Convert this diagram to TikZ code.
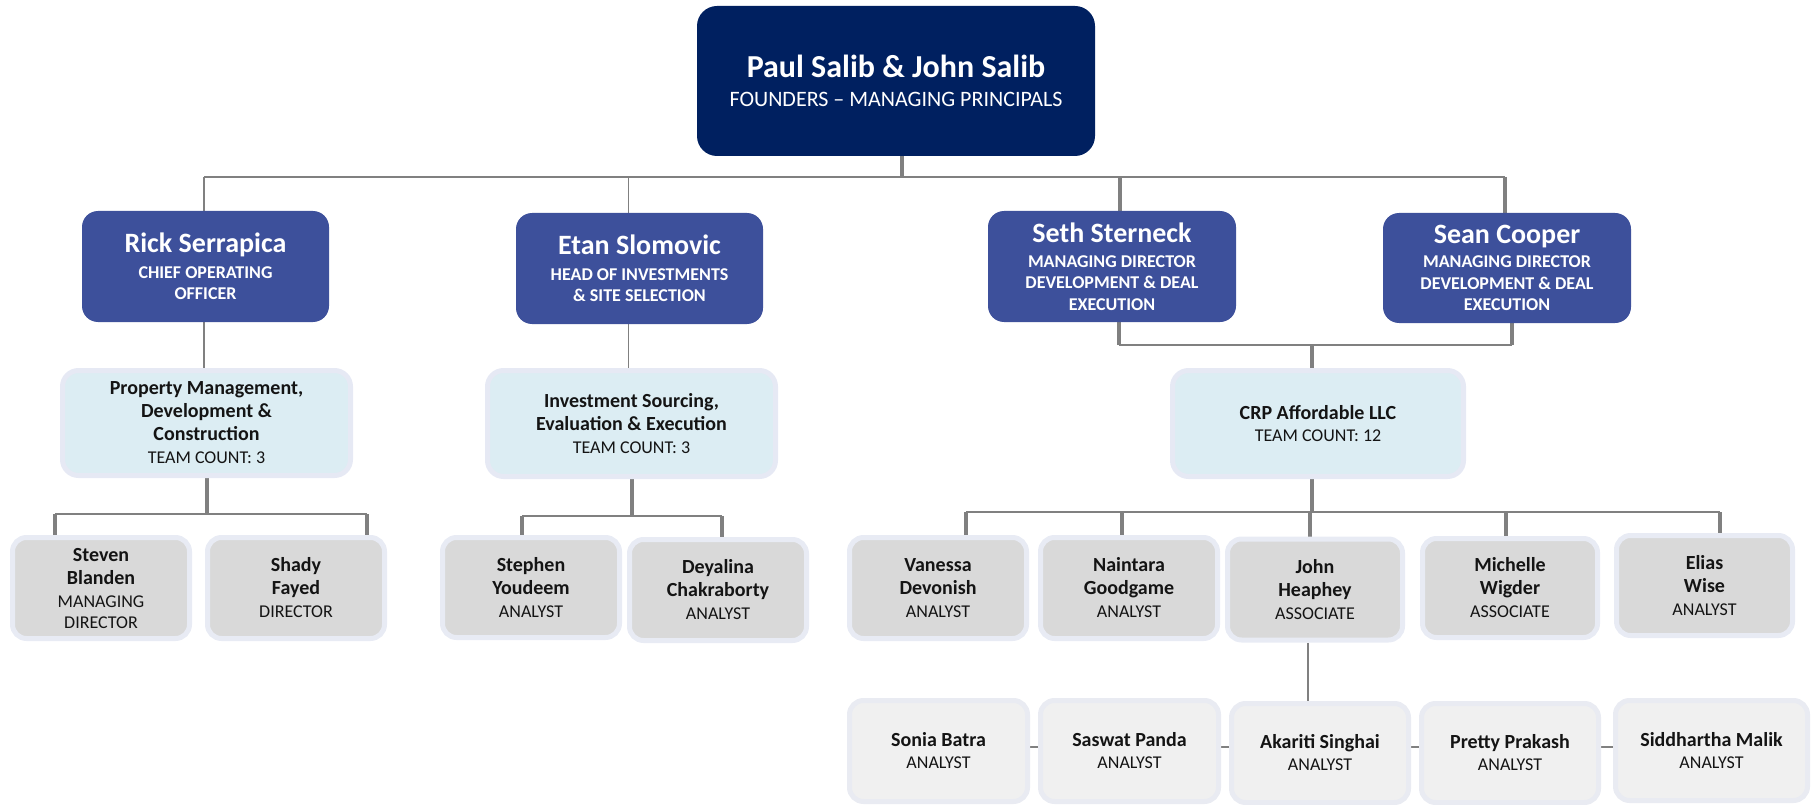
\documentclass[tikz,border=0pt]{standalone}
\usepackage{fontspec}
\setmainfont{Carlito}
\definecolor{navy}{HTML}{002060}
\definecolor{midblue}{HTML}{3D509B}
\definecolor{teamfill}{HTML}{DCEDF3}
\definecolor{teamborder}{HTML}{E6E9F4}
\definecolor{grayfill}{HTML}{D9D9D9}
\definecolor{grayborder}{HTML}{E8EBF4}
\definecolor{palefill}{HTML}{F0F0F0}
\definecolor{paleborder}{HTML}{E9EBF2}
\definecolor{linegray}{HTML}{808080}
\definecolor{ink}{HTML}{141414}
\pgfdeclarelayer{bg}
\pgfsetlayers{bg,main}
\newcommand\nmfont{\fontsize{20}{23}\selectfont\bfseries}
\newcommand\rlfont{\fontsize{18}{23}\selectfont}
\begin{document}
\begin{tikzpicture}[x=1pt,y=-1pt,
  topbox/.style={fill=navy, rounded corners=20pt, minimum width=398pt, minimum height=150pt,
    inner sep=0pt, align=center, text=white, font=\fontsize{22}{29}\selectfont},
  midbox/.style={fill=midblue, rounded corners=16pt, minimum width=247pt, minimum height=111pt,
    inner sep=0pt, align=center, text=white, font=\fontsize{18}{21.5}\selectfont\bfseries},
  teambox/.style={fill=teamfill, draw=teamborder, line width=5pt, rounded corners=16pt,
    minimum width=288pt, minimum height=105pt, inner sep=0pt, align=center, text=ink,
    font=\fontsize{18}{23}\selectfont},
  graybox/.style={fill=grayfill, draw=grayborder, line width=5pt, rounded corners=14pt,
    minimum width=177pt, minimum height=101pt, inner sep=0pt, align=center, text=ink,
    font=\fontsize{18}{23}\selectfont},
  palebox/.style={fill=palefill, draw=paleborder, line width=5pt, rounded corners=14pt,
    minimum width=178pt, minimum height=101pt, inner sep=0pt, align=center, text=ink,
    font=\fontsize{18}{22}\selectfont},
  thn/.style={draw=linegray, line width=1.8pt},
  thk/.style={draw=linegray, line width=4pt},
]
\useasboundingbox (0,0) rectangle (1818,805);

% level 0
\node[topbox] (top) at (896,81) {{\fontsize{32}{36}\selectfont\bfseries Paul Salib \& John Salib}\\FOUNDERS – MANAGING PRINCIPALS};

% level 1
\node[midbox] (rick) at (205.5,266.5) {{\fontsize{28}{30}\selectfont Rick Serrapica}\\[4pt]CHIEF OPERATING\\OFFICER};
\node[midbox] (etan) at (639.5,268.5) {{\fontsize{28}{30}\selectfont Etan Slomovic}\\[4pt]HEAD OF INVESTMENTS\\\& SITE SELECTION};
\node[midbox, minimum width=248pt] (seth) at (1112,266.5) {{\fontsize{28}{30}\selectfont Seth Sterneck}\\[3pt]MANAGING DIRECTOR\\DEVELOPMENT \& DEAL\\EXECUTION};
\node[midbox, minimum width=248pt, minimum height=110pt] (sean) at (1507,268) {{\fontsize{28}{30}\selectfont Sean Cooper}\\[3pt]MANAGING DIRECTOR\\DEVELOPMENT \& DEAL\\EXECUTION};

% level 2
\node[teambox] (pmdc) at (206.5,423) {{\nmfont Property Management,}\\{\nmfont Development \&}\\{\nmfont Construction}\\TEAM COUNT: 3};
\node[teambox, minimum height=106pt] (inv) at (631.5,423.5) {{\nmfont Investment Sourcing,}\\{\nmfont Evaluation \& Execution}\\TEAM COUNT: 3};
\node[teambox, minimum width=291pt, minimum height=106pt] (crp) at (1318,423.5) {{\nmfont CRP Affordable LLC}\\[-1pt]TEAM COUNT: 12};

% level 3
\node[graybox] (steven) at (101,588) {{\nmfont Steven}\\{\nmfont Blanden}\\MANAGING\\[-2pt]DIRECTOR};
\node[graybox] (shady) at (296,588) {{\nmfont Shady}\\{\nmfont Fayed}\\DIRECTOR};
\node[graybox, minimum height=100pt] (stephen) at (531,587.5) {{\nmfont Stephen}\\{\nmfont Youdeem}\\ANALYST};
\node[graybox] (deya) at (718,590) {{\nmfont Deyalina}\\{\nmfont Chakraborty}\\ANALYST};
\node[graybox] (van) at (938,588) {{\nmfont Vanessa}\\{\nmfont Devonish}\\ANALYST};
\node[graybox] (nai) at (1129,588) {{\nmfont Naintara}\\{\nmfont Goodgame}\\ANALYST};
\node[graybox, minimum width=175pt] (john) at (1315,589.5) {{\nmfont John}\\{\nmfont Heaphey}\\ASSOCIATE};
\node[graybox, minimum width=175pt, minimum height=99pt] (mich) at (1510,588) {{\nmfont Michelle}\\{\nmfont Wigder}\\ASSOCIATE};
\node[graybox, minimum width=176pt, minimum height=100pt] (elias) at (1704.5,585.5) {{\nmfont Elias}\\{\nmfont Wise}\\ANALYST};

% level 4
\node[palebox] (sonia) at (938.5,751) {{\nmfont Sonia Batra}\\ANALYST};
\node[palebox] (saswat) at (1129.5,751) {{\nmfont Saswat Panda}\\ANALYST};
\node[palebox, minimum width=177pt, minimum height=99pt] (akar) at (1320,753) {{\nmfont Akariti Singhai}\\ANALYST};
\node[palebox, minimum width=177pt, minimum height=99pt] (pretty) at (1510,753) {{\nmfont Pretty Prakash}\\ANALYST};
\node[palebox, minimum width=192pt, minimum height=100pt] (sidd) at (1711.5,750.5) {{\nmfont Siddhartha Malik}\\ANALYST};

% bus coordinates
\coordinate (t0) at (902,177);
\coordinate (r1) at (204,177);
\coordinate (e1) at (628.5,177);
\coordinate (s1) at (1120,177);
\coordinate (s2) at (1505,177);
\coordinate (j1) at (1119,345);
\coordinate (j2) at (1512,345);
\coordinate (j0) at (1312,345);
\coordinate (p0) at (207,514);
\coordinate (p1) at (55,514);
\coordinate (p2) at (367,514);
\coordinate (q0) at (632,516);
\coordinate (q1) at (522,516);
\coordinate (q2) at (722,516);
\coordinate (c0) at (1312,512);
\coordinate (c1) at (966,512);
\coordinate (c2) at (1122,512);
\coordinate (c3) at (1310,512);
\coordinate (c4) at (1506,512);
\coordinate (c5) at (1720,512);
\coordinate (k0) at (1308,670);
\coordinate (h0) at (1000,747);

\begin{pgfonlayer}{bg}
  % founders to level 1
  \draw[thk] (top.south -| t0) -- (t0);
  \draw[thn] (r1) -- (s2);
  \draw[thn] (r1) -- (r1 |- rick.north);
  \draw[thn] (e1) -- (e1 |- etan.north);
  \draw[thk] (s1) -- (s1 |- seth.north);
  \draw[thk] (s2) -- (s2 |- sean.north);
  % level 1 to level 2
  \draw[thn] (rick.south -| r1) -- (pmdc.north -| r1);
  \draw[thn] (etan.south -| e1) -- (inv.north -| e1);
  \draw[thk] (seth.south -| j1) -- (j1);
  \draw[thk] (sean.south -| j2) -- (j2);
  \draw[thn] (j1) -- (j2);
  \draw[thk] (j0) -- (crp.north -| j0);
  % level 2 to level 3
  \draw[thk] (pmdc.south -| p0) -- (p0);
  \draw[thn] (p1) -- (p2);
  \draw[thk] (p1) -- (p1 |- steven.north);
  \draw[thk] (p2) -- (p2 |- shady.north);
  \draw[thk] (inv.south -| q0) -- (q0);
  \draw[thn] (q1) -- (q2);
  \draw[thk] (q1) -- (q1 |- stephen.north);
  \draw[thk] (q2) -- (q2 |- deya.north);
  \draw[thk] (crp.south -| c0) -- (c0);
  \draw[thn] (c1) -- (c5);
  \draw[thk] (c1) -- (c1 |- van.north);
  \draw[thk] (c2) -- (c2 |- nai.north);
  \draw[thk] (c3) -- (c3 |- john.north);
  \draw[thk] (c4) -- (c4 |- mich.north);
  \draw[thk] (c5) -- (c5 |- elias.north);
  % level 3 to level 4
  \draw[thn] (john.south -| k0) -- (akar.north -| k0);
  \draw[thn] (sonia.east |- h0) -- (saswat.west |- h0);
  \draw[thn] (saswat.east |- h0) -- (akar.west |- h0);
  \draw[thn] (akar.east |- h0) -- (pretty.west |- h0);
  \draw[thn] (pretty.east |- h0) -- (sidd.west |- h0);
\end{pgfonlayer}
\end{tikzpicture}
\end{document}
